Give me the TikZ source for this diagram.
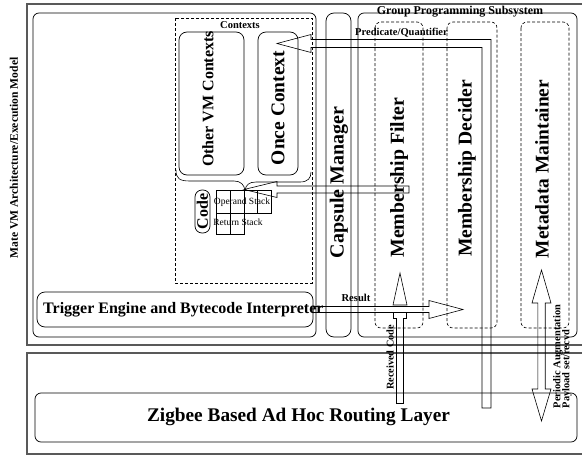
\documentclass[tikz,border=0pt]{standalone}
\usepackage{fontspec}
\setmainfont{Liberation Serif}
\newcommand\fsz[1]{\fontsize{#1pt}{#1pt}\selectfont}
\begin{document}
\begin{tikzpicture}[x=1pt,y=-1pt,
 outerbox/.style={draw=black!65, line width=1.3pt},
 rbox/.style={draw, line width=0.7pt, rounded corners=6pt},
 dbox/.style={draw, line width=0.6pt, dash pattern=on 3pt off 2pt},
 fat/.style={draw, line width=0.6pt, line join=miter},
 lbl/.style={inner sep=0pt, font=\bfseries},
 vlbl/.style={lbl, rotate=90},
]
\useasboundingbox (0,0) rectangle (582,458);
\clip (0,0) rectangle (582,458);
% outer boxes
\draw[outerbox] (27,4) rectangle (620,345);
\draw[outerbox] (27,353) rectangle (620,454);
% main boxes
\draw[rbox] (33,13) rectangle (316,337);
\draw[rbox, rounded corners=8pt] (326,13) rectangle (351,337);
\draw[rbox] (358,13) rectangle (577,337);
\draw[dbox] (175,18) rectangle (312,283);
\draw[rbox, rounded corners=8pt] (179,32) rectangle (244,175);
\draw[rbox, rounded corners=8pt] (258,32) rectangle (298,175);
\draw[rbox, rounded corners=7pt] (195,190) rectangle (210,233);
\draw[rbox, rounded corners=8pt] (37,292) rectangle (313,327);
\draw[rbox] (35,393) rectangle (577,442);
\draw[dbox, rounded corners=6pt] (375,22) rectangle (423,328);
\draw[dbox, rounded corners=6pt] (447,22) rectangle (497,328);
\draw[dbox, rounded corners=6pt] (521,22) rectangle (569,328);
% stack grid
\draw[line width=0.6pt] (216,190.7) rectangle (271,213)
  (230,190.7) -- (230,213) (244,190.7) -- (244,213) (257.5,190.7) -- (257.5,213);
\draw[line width=0.6pt] (216,213) rectangle (244,234) (230,213) -- (230,234);
% brace
\draw[line width=0.6pt] (176,170) .. controls (176,179) and (180,181) .. (190,181) -- (234,181)
  .. controls (241,181) and (244,185) .. (245,190)
  .. controls (246,185) and (249,182) .. (256,182) -- (300,182)
  .. controls (308,182) and (311,178) .. (311,172);
% arrows
\coordinate (opTip) at (244,189.5);
\coordinate (onceTip) at (277,43.5);
\draw[fat] (409,186) -- (277,186) -- (277,181.5) -- (opTip) -- (277,197.5) -- (277,193) -- (409,193) -- cycle;
\draw[fat] (482,408) -- (482,47.5) -- (311,47.5) -- (311,52.5) -- (onceTip) -- (311,34.5) -- (311,39.5) -- (491,39.5) -- (491,408) -- cycle;
\coordinate (rcTip) at (400,273);
\draw[fat] (393,305) -- (rcTip) -- (407,305) -- cycle;
\draw[fat] (393.5,313) -- (393.5,318) -- (396.5,318) -- (396.5,403) -- (403.5,403) -- (403.5,318) -- (406.5,318) -- (406.5,313);
\coordinate (resTip) at (463,309.5);
\draw[fat] (313,306.5) -- (429,306.5) -- (429,300.5) -- (resTip) -- (429,318.5) -- (429,312.5) -- (313,312.5) -- cycle;
\coordinate (paTop) at (541.5,270);
\coordinate (paBot) at (541.5,421);
\draw[fat] (paTop) -- (551,303) -- (545.2,303) -- (545.2,389) -- (551,389) -- (paBot) -- (532,389) -- (537.8,389) -- (537.8,303) -- (532,303) -- cycle;
% labels
\node[vlbl, font=\bfseries\fsz{11.6}] (mate) at (14,158) {Mate VM Architecture/Execution Model};
\node[lbl, font=\bfseries\fsz{12}] (gps) at (460,11.5) {Group Programming Subsystem};
\node[lbl, font=\bfseries\fsz{10.5}] (ctx) at (240,25) {Contexts};
\node[lbl, font=\bfseries\fsz{10.5}] (pq) at (401.5,33) {Predicate/Quantifier};
\node[vlbl, font=\bfseries\fsz{16}] (other) at (208,99) {Other VM Contexts};
\node[vlbl, font=\bfseries\fsz{19.5}] (once) at (278,108) {Once Context};
\node[vlbl, font=\bfseries\fsz{20}] (caps) at (339,182.5) {Capsule Manager};
\node[vlbl, font=\bfseries\fsz{19.8}] (mf) at (399,177.5) {Membership Filter};
\node[vlbl, font=\bfseries\fsz{19.6}] (md) at (467,168.5) {Membership Decider};
\node[vlbl, font=\bfseries\fsz{19.4}] (mm) at (542,169) {Metadata Maintainer};
\node[vlbl, font=\bfseries\fsz{16}] (code) at (202.5,211.5) {Code};
\node[lbl, font=\fsz{9.5}] (ops) at (242,202) {Operand Stack};
\node[lbl, font=\fsz{9.5}] (rets) at (238,222) {Return Stack};
\node[lbl, font=\bfseries\fsz{16}, anchor=west] (trig) at (43,309.5) {Trigger Engine and Bytecode Interpreter};
\node[lbl, font=\bfseries\fsz{10.6}] (res) at (356,298) {Result};
\node[vlbl, font=\bfseries\fsz{10.3}] (rc) at (390,357.5) {Received Code};
\node[vlbl, font=\bfseries\fsz{10.4}] (pa) at (558,356.5) {Periodic Augmentation};
\node[vlbl, font=\bfseries\fsz{10.4}] (pl) at (567,369) {Payload set/recvd};
\node[lbl, font=\bfseries\fsz{19.3}] (zig) at (298.5,417) {Zigbee Based Ad Hoc Routing Layer};
\end{tikzpicture}
\end{document}
